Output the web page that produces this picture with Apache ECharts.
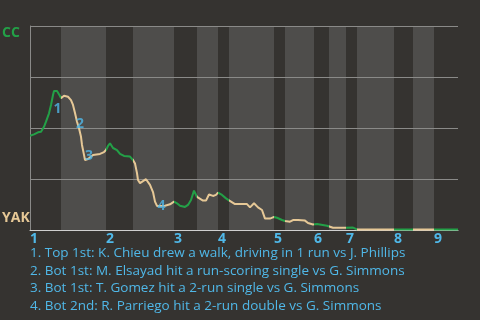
<!DOCTYPE html>
<html><head><meta charset="utf-8">
<script src="https://cdn.jsdelivr.net/npm/echarts@6/dist/echarts.min.js"></script>
<style>html,body{margin:0;padding:0;background:#353330;}#c{width:480px;height:320px;}</style>
</head><body><div id="c"></div>
<script>
// Event index (x) and CC win probability (y)
const pitchIdx = [0,1,4,8,11,14,16,19,21,23,24,27,30,31,34,36,38,41,43,45,47,49,51,52,54,55,58,63,70,74,76,78,80,83,87,90,94,100,103,105,107,108,110,112,116,120,123,125,127,135,140,144,147,150,155,158,161,164,167,169,173,176,179,183,186,188,192,196,199,205,217,220,224,228,232,235,240,244,247,252,255,260,263,268,275,278,283,284,287,288,297,300,303,316,323,325,327,428];
const winProb = [0.462,0.457,0.469,0.479,0.482,0.506,0.531,0.572,0.613,0.662,0.681,0.681,0.657,0.646,0.658,0.665,0.653,0.637,0.613,0.574,0.531,0.499,0.457,0.417,0.368,0.343,0.348,0.368,0.373,0.382,0.392,0.412,0.425,0.402,0.392,0.373,0.363,0.360,0.343,0.326,0.279,0.245,0.230,0.224,0.249,0.221,0.186,0.139,0.118,0.119,0.126,0.139,0.131,0.119,0.113,0.123,0.147,0.193,0.162,0.155,0.144,0.144,0.174,0.167,0.172,0.183,0.172,0.155,0.145,0.127,0.127,0.111,0.131,0.111,0.098,0.056,0.056,0.064,0.060,0.049,0.044,0.041,0.049,0.049,0.046,0.034,0.027,0.029,0.029,0.021,0.021,0.016,0.011,0.011,0.012,0.006,0.003,0.003];
// half-inning starts (top 1, bot 1, top 2, ...), end of game
const halfStarts = [0,31,76,103,144,167,188,199,244,255,284,299,316,327,364,383,404];
const gameEnd = 428;
const inningLabels = ['1','2','3','4','5','6','7','8','9'];
// key event annotations
const eventNums = ['1','2','3','4'];
const eventX = [27.5,50,59,131.5];
const eventY = [0.593,0.520,0.365,0.118];
const notes = [
  '1. Top 1st: K. Chieu drew a walk, driving in 1 run vs J. Phillips',
  '2. Bot 1st: M. Elsayad hit a run-scoring single vs G. Simmons',
  '3. Bot 1st: T. Gomez hit a 2-run single vs G. Simmons',
  '4. Bot 2nd: R. Parriego hit a 2-run double vs G. Simmons'
];
const teamTop = 'CC', teamBottom = 'YAK';

const GREEN = '#23a047', BEIGE = '#e6c896', BLUE = '#50b8e8', BAND = '#4e4d4b';
const FONT = 'Open Sans';

const bands = [], pieces = [];
for (let i = 0; i < halfStarts.length; i++) {
  const a = halfStarts[i], b = i + 1 < halfStarts.length ? halfStarts[i + 1] : gameEnd;
  if (i % 2 === 1) bands.push([a, b, 0, 1]);
  pieces.push(i === halfStarts.length - 1 ? {gte: a, lte: b + 1, color: i % 2 ? BEIGE : GREEN}
                                          : {gte: a, lt: b, color: i % 2 ? BEIGE : GREEN});
}
const inningStarts = halfStarts.filter((v, i) => i % 2 === 0);

const chart = echarts.init(document.getElementById('c'), null, {renderer: 'canvas'});
chart.setOption({
  animation: false,
  backgroundColor: '#353330',
  grid: {left: 30, right: 22, top: 26, bottom: 90},
  xAxis: {
    type: 'value', min: 0, max: gameEnd,
    axisLine: {show: true, lineStyle: {color: '#cfcfcf', width: 1}},
    axisTick: {show: false}, splitLine: {show: false},
    axisLabel: {
      customValues: inningStarts, align: 'left', margin: 2,
      color: BLUE, fontFamily: FONT, fontWeight: 'bold', fontSize: 14,
      formatter: v => inningLabels[inningStarts.indexOf(v)]
    }
  },
  yAxis: {
    type: 'value', min: 0, max: 1, interval: 0.25,
    axisLine: {show: true, lineStyle: {color: '#8a8a88'}},
    axisTick: {show: false}, axisLabel: {show: false},
    splitLine: {show: true, lineStyle: {color: '#8a8a88', width: 1}}
  },
  visualMap: {show: false, type: 'piecewise', dimension: 0, seriesIndex: 1, pieces: pieces},
  series: [
    {
      type: 'custom', z: -1, silent: true,
      data: bands, encode: {x: [0, 1], y: [2, 3]},
      renderItem: function (params, api) {
        const s = api.coord([api.value(0), api.value(3)]);
        const e = api.coord([api.value(1), api.value(2)]);
        return {type: 'rect', shape: {x: s[0], y: s[1], width: e[0] - s[0], height: e[1] - s[1]}, style: {fill: BAND}};
      }
    },
    {
      type: 'line', symbol: 'none', z: 3,
      lineStyle: {width: 2},
      data: pitchIdx.map((x, i) => [x, winProb[i]])
    },
    {
      type: 'scatter', symbolSize: 0, z: 4, silent: true,
      data: eventX.map((x, i) => [x, eventY[i], eventNums[i]]),
      label: {show: true, position: 'inside', formatter: p => p.data[2],
        color: BLUE, fontFamily: FONT, fontWeight: 'bold', fontSize: 14}
    }
  ],
  graphic: [
    {type: 'text', left: 2, top: 26, style: {text: teamTop, fill: GREEN, font: 'bold 14px "' + FONT + '"'}},
    {type: 'text', left: 2, top: 211, style: {text: teamBottom, fill: BEIGE, font: 'bold 14px "' + FONT + '"'}}
  ].concat(notes.map((t, i) => ({
    type: 'text', left: 30, top: 246.5 + i * 17.5,
    style: {text: t, fill: BLUE, font: '13.5px "' + FONT + '"'}
  })))
});
</script></body></html>
